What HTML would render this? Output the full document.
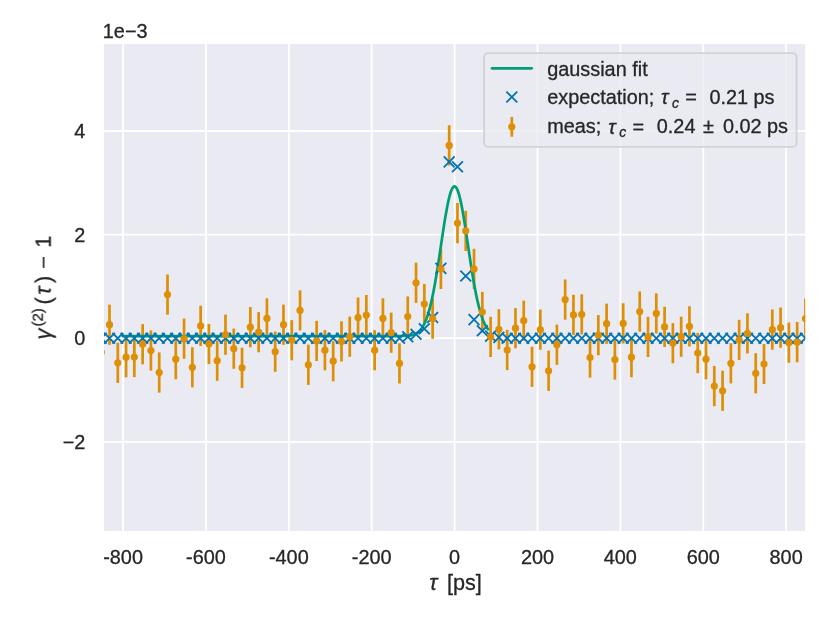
<!DOCTYPE html>
<html lang="en"><head><meta charset="utf-8"><title>gaussian fit</title>
<style>
html,body{margin:0;padding:0;background:#fff;}
svg{display:block;}
text{font-family:"Liberation Sans",sans-serif;fill:#262626;stroke:#262626;stroke-width:0.3px;}
</style></head>
<body>
<svg width="830" height="623" viewBox="0 0 830 623">
<defs>
<clipPath id="ax"><rect x="104" y="44" width="701.2" height="487"/></clipPath>
<path id="x" d="M-5.42 -5.42 L5.42 5.42 M-5.42 5.42 L5.42 -5.42" fill="none" stroke="#0173B2" stroke-width="1.8" stroke-linecap="butt"/>
<circle id="p" r="3.6" fill="#DE8F05"/>
</defs>
<rect x="0" y="0" width="830" height="623" fill="#ffffff"/>
<rect x="104" y="44" width="701.2" height="487" fill="#EAEAF2"/>
<g stroke="#ffffff" stroke-width="1.8" stroke-linecap="round" clip-path="url(#ax)">
<line x1="123.08" y1="44" x2="123.08" y2="531"/>
<line x1="205.96" y1="44" x2="205.96" y2="531"/>
<line x1="288.84" y1="44" x2="288.84" y2="531"/>
<line x1="371.72" y1="44" x2="371.72" y2="531"/>
<line x1="454.6" y1="44" x2="454.6" y2="531"/>
<line x1="537.48" y1="44" x2="537.48" y2="531"/>
<line x1="620.36" y1="44" x2="620.36" y2="531"/>
<line x1="703.24" y1="44" x2="703.24" y2="531"/>
<line x1="786.12" y1="44" x2="786.12" y2="531"/>
<line x1="104" y1="441.8" x2="805.2" y2="441.8"/>
<line x1="104" y1="338.2" x2="805.2" y2="338.2"/>
<line x1="104" y1="234.6" x2="805.2" y2="234.6"/>
<line x1="104" y1="131" x2="805.2" y2="131"/>
</g>
<g clip-path="url(#ax)">
<g stroke="#DE8F05" stroke-width="2.71" stroke-linecap="butt">
<line x1="101.22" y1="332.1" x2="101.22" y2="372.3"/>
<line x1="109.5" y1="304.6" x2="109.5" y2="344.8"/>
<line x1="117.78" y1="342.7" x2="117.78" y2="382.9"/>
<line x1="126.07" y1="337.1" x2="126.07" y2="377.3"/>
<line x1="134.35" y1="336.9" x2="134.35" y2="377.1"/>
<line x1="142.64" y1="324.1" x2="142.64" y2="364.3"/>
<line x1="150.93" y1="330.4" x2="150.93" y2="370.6"/>
<line x1="159.21" y1="352.4" x2="159.21" y2="392.6"/>
<line x1="167.5" y1="274.5" x2="167.5" y2="314.7"/>
<line x1="175.78" y1="339.1" x2="175.78" y2="379.3"/>
<line x1="184.06" y1="318.6" x2="184.06" y2="358.8"/>
<line x1="192.35" y1="347.2" x2="192.35" y2="387.4"/>
<line x1="200.63" y1="305.8" x2="200.63" y2="346"/>
<line x1="208.92" y1="323.9" x2="208.92" y2="364.1"/>
<line x1="217.2" y1="340.6" x2="217.2" y2="380.8"/>
<line x1="225.49" y1="314.6" x2="225.49" y2="354.8"/>
<line x1="233.78" y1="328.6" x2="233.78" y2="368.8"/>
<line x1="242.06" y1="347.7" x2="242.06" y2="387.9"/>
<line x1="250.34" y1="307.1" x2="250.34" y2="347.3"/>
<line x1="258.63" y1="312.1" x2="258.63" y2="352.3"/>
<line x1="266.91" y1="298.3" x2="266.91" y2="338.5"/>
<line x1="275.2" y1="331.6" x2="275.2" y2="371.8"/>
<line x1="283.49" y1="304.6" x2="283.49" y2="344.8"/>
<line x1="291.77" y1="320.1" x2="291.77" y2="360.3"/>
<line x1="300.06" y1="290.3" x2="300.06" y2="330.5"/>
<line x1="308.34" y1="344.7" x2="308.34" y2="384.9"/>
<line x1="316.62" y1="320.8" x2="316.62" y2="361"/>
<line x1="324.91" y1="330.1" x2="324.91" y2="370.3"/>
<line x1="333.19" y1="341.1" x2="333.19" y2="381.3"/>
<line x1="341.48" y1="321.3" x2="341.48" y2="361.5"/>
<line x1="349.76" y1="316.6" x2="349.76" y2="356.8"/>
<line x1="358.05" y1="297.5" x2="358.05" y2="337.7"/>
<line x1="366.33" y1="295" x2="366.33" y2="335.2"/>
<line x1="374.62" y1="330.1" x2="374.62" y2="370.3"/>
<line x1="382.91" y1="298.3" x2="382.91" y2="338.5"/>
<line x1="391.19" y1="312.6" x2="391.19" y2="352.8"/>
<line x1="399.48" y1="343.3" x2="399.48" y2="383.5"/>
<line x1="407.76" y1="296.4" x2="407.76" y2="336.6"/>
<line x1="416.05" y1="262.7" x2="416.05" y2="302.9"/>
<line x1="424.33" y1="283.9" x2="424.33" y2="324.1"/>
<line x1="432.62" y1="298.6" x2="432.62" y2="338.8"/>
<line x1="440.9" y1="248.8" x2="440.9" y2="289"/>
<line x1="449.19" y1="125.3" x2="449.19" y2="165.5"/>
<line x1="457.47" y1="203" x2="457.47" y2="243.2"/>
<line x1="465.75" y1="210.7" x2="465.75" y2="250.9"/>
<line x1="474.04" y1="248.8" x2="474.04" y2="289"/>
<line x1="482.32" y1="291.9" x2="482.32" y2="332.1"/>
<line x1="490.61" y1="316.8" x2="490.61" y2="357"/>
<line x1="498.89" y1="309.2" x2="498.89" y2="349.4"/>
<line x1="507.18" y1="329.9" x2="507.18" y2="370.1"/>
<line x1="515.47" y1="308.1" x2="515.47" y2="348.3"/>
<line x1="523.75" y1="300.6" x2="523.75" y2="340.8"/>
<line x1="532.04" y1="346.7" x2="532.04" y2="386.9"/>
<line x1="540.32" y1="309.6" x2="540.32" y2="349.8"/>
<line x1="548.61" y1="350.7" x2="548.61" y2="390.9"/>
<line x1="556.89" y1="324.6" x2="556.89" y2="364.8"/>
<line x1="565.17" y1="279.5" x2="565.17" y2="319.7"/>
<line x1="573.46" y1="294.8" x2="573.46" y2="335"/>
<line x1="581.75" y1="294.3" x2="581.75" y2="334.5"/>
<line x1="590.03" y1="337.4" x2="590.03" y2="377.6"/>
<line x1="598.32" y1="315.1" x2="598.32" y2="355.3"/>
<line x1="606.6" y1="303.6" x2="606.6" y2="343.8"/>
<line x1="614.88" y1="339.4" x2="614.88" y2="379.6"/>
<line x1="623.17" y1="303.3" x2="623.17" y2="343.5"/>
<line x1="631.46" y1="337.1" x2="631.46" y2="377.3"/>
<line x1="639.74" y1="291.5" x2="639.74" y2="331.7"/>
<line x1="648.02" y1="316.8" x2="648.02" y2="357"/>
<line x1="656.31" y1="293.3" x2="656.31" y2="333.5"/>
<line x1="664.6" y1="306.8" x2="664.6" y2="347"/>
<line x1="672.88" y1="323.1" x2="672.88" y2="363.3"/>
<line x1="681.16" y1="316.6" x2="681.16" y2="356.8"/>
<line x1="689.45" y1="306.3" x2="689.45" y2="346.5"/>
<line x1="697.74" y1="332.9" x2="697.74" y2="373.1"/>
<line x1="706.02" y1="339.1" x2="706.02" y2="379.3"/>
<line x1="714.31" y1="366" x2="714.31" y2="406.2"/>
<line x1="722.59" y1="370.7" x2="722.59" y2="410.9"/>
<line x1="730.88" y1="343.2" x2="730.88" y2="383.4"/>
<line x1="739.16" y1="319.8" x2="739.16" y2="360"/>
<line x1="747.45" y1="313.3" x2="747.45" y2="353.5"/>
<line x1="755.73" y1="353.2" x2="755.73" y2="393.4"/>
<line x1="764.01" y1="343.9" x2="764.01" y2="384.1"/>
<line x1="772.3" y1="309.6" x2="772.3" y2="349.8"/>
<line x1="780.59" y1="307.6" x2="780.59" y2="347.8"/>
<line x1="788.87" y1="322.6" x2="788.87" y2="362.8"/>
<line x1="797.15" y1="322.1" x2="797.15" y2="362.3"/>
<line x1="805.44" y1="298.5" x2="805.44" y2="338.7"/>
</g>
<path d="M122.7 336.1 L130.7 336.1 L138.7 336.1 L146.7 336.1 L154.7 336.1 L162.7 336.1 L170.7 336.1 L178.7 336.1 L186.7 336.1 L194.7 336.1 L202.7 336.1 L210.7 336.1 L218.7 336.1 L226.7 336.1 L234.7 336.1 L242.7 336.1 L250.7 336.1 L258.7 336.1 L266.7 336.1 L274.7 336.1 L282.7 336.1 L290.7 336.1 L298.7 336.1 L306.7 336.1 L314.7 336.1 L322.7 336.1 L330.7 336.1 L338.7 336.1 L346.7 336.1 L354.7 336.1 L362.7 336.1 L370.7 336.1 L378.7 336.1 L379.2 336.1 L379.7 336.1 L380.2 336.1 L380.7 336.1 L381.2 336.1 L381.7 336.1 L382.2 336.1 L382.7 336.1 L383.2 336.1 L383.7 336.1 L384.2 336.1 L384.7 336.1 L385.2 336.1 L385.7 336.1 L386.2 336.1 L386.7 336.1 L387.2 336.1 L387.7 336.1 L388.2 336.1 L388.7 336.1 L389.2 336.1 L389.7 336.1 L390.2 336.1 L390.7 336.1 L391.2 336.1 L391.7 336.1 L392.2 336.1 L392.7 336.1 L393.2 336.1 L393.7 336.09 L394.2 336.09 L394.7 336.09 L395.2 336.09 L395.7 336.09 L396.2 336.09 L396.7 336.08 L397.2 336.08 L397.7 336.08 L398.2 336.07 L398.7 336.07 L399.2 336.07 L399.7 336.06 L400.2 336.05 L400.7 336.05 L401.2 336.04 L401.7 336.03 L402.2 336.02 L402.7 336 L403.2 335.99 L403.7 335.97 L404.2 335.96 L404.7 335.93 L405.2 335.91 L405.7 335.88 L406.2 335.85 L406.7 335.82 L407.2 335.78 L407.7 335.73 L408.2 335.68 L408.7 335.63 L409.2 335.56 L409.7 335.49 L410.2 335.41 L410.7 335.32 L411.2 335.23 L411.7 335.12 L412.2 335 L412.7 334.86 L413.2 334.71 L413.7 334.54 L414.2 334.36 L414.7 334.16 L415.2 333.94 L415.7 333.69 L416.2 333.42 L416.7 333.13 L417.2 332.81 L417.7 332.46 L418.2 332.07 L418.7 331.65 L419.2 331.2 L419.7 330.7 L420.2 330.16 L420.7 329.58 L421.2 328.96 L421.7 328.28 L422.2 327.55 L422.7 326.76 L423.2 325.92 L423.7 325.01 L424.2 324.04 L424.7 323 L425.2 321.9 L425.7 320.72 L426.2 319.47 L426.7 318.14 L427.2 316.73 L427.7 315.23 L428.2 313.66 L428.7 311.99 L429.2 310.24 L429.7 308.4 L430.2 306.47 L430.7 304.45 L431.2 302.34 L431.7 300.14 L432.2 297.84 L432.7 295.46 L433.2 292.98 L433.7 290.42 L434.2 287.77 L434.7 285.04 L435.2 282.22 L435.7 279.33 L436.2 276.37 L436.7 273.34 L437.2 270.24 L437.7 267.09 L438.2 263.88 L438.7 260.63 L439.2 257.34 L439.7 254.02 L440.2 250.68 L440.7 247.32 L441.2 243.96 L441.7 240.6 L442.2 237.25 L442.7 233.93 L443.2 230.64 L443.7 227.4 L444.2 224.2 L444.7 221.08 L445.2 218.02 L445.7 215.05 L446.2 212.18 L446.7 209.41 L447.2 206.76 L447.7 204.24 L448.2 201.84 L448.7 199.6 L449.2 197.5 L449.7 195.57 L450.2 193.8 L450.7 192.21 L451.2 190.81 L451.7 189.59 L452.2 188.56 L452.7 187.72 L453.2 187.09 L453.7 186.66 L454.2 186.44 L454.7 186.42 L455.2 186.6 L455.7 186.99 L456.2 187.58 L456.7 188.37 L457.2 189.36 L457.7 190.55 L458.2 191.92 L458.7 193.47 L459.2 195.2 L459.7 197.1 L460.2 199.17 L460.7 201.38 L461.2 203.75 L461.7 206.25 L462.2 208.87 L462.7 211.62 L463.2 214.47 L463.7 217.42 L464.2 220.46 L464.7 223.57 L465.2 226.75 L465.7 229.99 L466.2 233.27 L466.7 236.59 L467.2 239.93 L467.7 243.28 L468.2 246.65 L468.7 250.01 L469.2 253.35 L469.7 256.68 L470.2 259.97 L470.7 263.23 L471.2 266.45 L471.7 269.61 L472.2 272.72 L472.7 275.77 L473.2 278.74 L473.7 281.65 L474.2 284.48 L474.7 287.23 L475.2 289.9 L475.7 292.48 L476.2 294.97 L476.7 297.37 L477.2 299.69 L477.7 301.91 L478.2 304.04 L478.7 306.08 L479.2 308.03 L479.7 309.88 L480.2 311.65 L480.7 313.33 L481.2 314.92 L481.7 316.43 L482.2 317.86 L482.7 319.21 L483.2 320.48 L483.7 321.67 L484.2 322.79 L484.7 323.84 L485.2 324.82 L485.7 325.74 L486.2 326.6 L486.7 327.39 L487.2 328.14 L487.7 328.82 L488 329.21" fill="none" stroke="#029E73" stroke-width="2.71" stroke-linejoin="round" stroke-linecap="round"/>
<use href="#x" x="101.22" y="338.2"/>
<use href="#x" x="109.5" y="338.2"/>
<use href="#x" x="117.78" y="338.2"/>
<use href="#x" x="126.07" y="338.2"/>
<use href="#x" x="134.35" y="338.2"/>
<use href="#x" x="142.64" y="338.2"/>
<use href="#x" x="150.93" y="338.2"/>
<use href="#x" x="159.21" y="338.2"/>
<use href="#x" x="167.5" y="338.2"/>
<use href="#x" x="175.78" y="338.2"/>
<use href="#x" x="184.06" y="338.2"/>
<use href="#x" x="192.35" y="338.2"/>
<use href="#x" x="200.63" y="338.2"/>
<use href="#x" x="208.92" y="338.2"/>
<use href="#x" x="217.2" y="338.2"/>
<use href="#x" x="225.49" y="338.2"/>
<use href="#x" x="233.78" y="338.2"/>
<use href="#x" x="242.06" y="338.2"/>
<use href="#x" x="250.34" y="338.2"/>
<use href="#x" x="258.63" y="338.2"/>
<use href="#x" x="266.91" y="338.2"/>
<use href="#x" x="275.2" y="338.2"/>
<use href="#x" x="283.49" y="338.2"/>
<use href="#x" x="291.77" y="338.2"/>
<use href="#x" x="300.06" y="338.2"/>
<use href="#x" x="308.34" y="338.2"/>
<use href="#x" x="316.62" y="338.2"/>
<use href="#x" x="324.91" y="338.2"/>
<use href="#x" x="333.19" y="338.2"/>
<use href="#x" x="341.48" y="338.2"/>
<use href="#x" x="349.76" y="338.2"/>
<use href="#x" x="358.05" y="338.2"/>
<use href="#x" x="366.33" y="338.2"/>
<use href="#x" x="374.62" y="338.2"/>
<use href="#x" x="382.91" y="338.2"/>
<use href="#x" x="391.19" y="338.2"/>
<use href="#x" x="399.48" y="338.2"/>
<use href="#x" x="407.76" y="336.7"/>
<use href="#x" x="416.05" y="334.3"/>
<use href="#x" x="424.33" y="328.7"/>
<use href="#x" x="432.62" y="317.5"/>
<use href="#x" x="440.9" y="268.4"/>
<use href="#x" x="449.19" y="161.9"/>
<use href="#x" x="457.47" y="166.8"/>
<use href="#x" x="465.75" y="276"/>
<use href="#x" x="474.04" y="319.6"/>
<use href="#x" x="482.32" y="330.8"/>
<use href="#x" x="490.61" y="336.1"/>
<use href="#x" x="498.89" y="337.4"/>
<use href="#x" x="507.18" y="338.2"/>
<use href="#x" x="515.47" y="338.2"/>
<use href="#x" x="523.75" y="338.2"/>
<use href="#x" x="532.04" y="338.2"/>
<use href="#x" x="540.32" y="338.2"/>
<use href="#x" x="548.61" y="338.2"/>
<use href="#x" x="556.89" y="338.2"/>
<use href="#x" x="565.17" y="338.2"/>
<use href="#x" x="573.46" y="338.2"/>
<use href="#x" x="581.75" y="338.2"/>
<use href="#x" x="590.03" y="338.2"/>
<use href="#x" x="598.32" y="338.2"/>
<use href="#x" x="606.6" y="338.2"/>
<use href="#x" x="614.88" y="338.2"/>
<use href="#x" x="623.17" y="338.2"/>
<use href="#x" x="631.46" y="338.2"/>
<use href="#x" x="639.74" y="338.2"/>
<use href="#x" x="648.02" y="338.2"/>
<use href="#x" x="656.31" y="338.2"/>
<use href="#x" x="664.6" y="338.2"/>
<use href="#x" x="672.88" y="338.2"/>
<use href="#x" x="681.16" y="338.2"/>
<use href="#x" x="689.45" y="338.2"/>
<use href="#x" x="697.74" y="338.2"/>
<use href="#x" x="706.02" y="338.2"/>
<use href="#x" x="714.31" y="338.2"/>
<use href="#x" x="722.59" y="338.2"/>
<use href="#x" x="730.88" y="338.2"/>
<use href="#x" x="739.16" y="338.2"/>
<use href="#x" x="747.45" y="338.2"/>
<use href="#x" x="755.73" y="338.2"/>
<use href="#x" x="764.01" y="338.2"/>
<use href="#x" x="772.3" y="338.2"/>
<use href="#x" x="780.59" y="338.2"/>
<use href="#x" x="788.87" y="338.2"/>
<use href="#x" x="797.15" y="338.2"/>
<use href="#x" x="805.44" y="338.2"/>
<use href="#p" x="101.22" y="352.2"/>
<use href="#p" x="109.5" y="324.7"/>
<use href="#p" x="117.78" y="362.8"/>
<use href="#p" x="126.07" y="357.2"/>
<use href="#p" x="134.35" y="357"/>
<use href="#p" x="142.64" y="344.2"/>
<use href="#p" x="150.93" y="350.5"/>
<use href="#p" x="159.21" y="372.5"/>
<use href="#p" x="167.5" y="294.6"/>
<use href="#p" x="175.78" y="359.2"/>
<use href="#p" x="184.06" y="338.7"/>
<use href="#p" x="192.35" y="367.3"/>
<use href="#p" x="200.63" y="325.9"/>
<use href="#p" x="208.92" y="344"/>
<use href="#p" x="217.2" y="360.7"/>
<use href="#p" x="225.49" y="334.7"/>
<use href="#p" x="233.78" y="348.7"/>
<use href="#p" x="242.06" y="367.8"/>
<use href="#p" x="250.34" y="327.2"/>
<use href="#p" x="258.63" y="332.2"/>
<use href="#p" x="266.91" y="318.4"/>
<use href="#p" x="275.2" y="351.7"/>
<use href="#p" x="283.49" y="324.7"/>
<use href="#p" x="291.77" y="340.2"/>
<use href="#p" x="300.06" y="310.4"/>
<use href="#p" x="308.34" y="364.8"/>
<use href="#p" x="316.62" y="340.9"/>
<use href="#p" x="324.91" y="350.2"/>
<use href="#p" x="333.19" y="361.2"/>
<use href="#p" x="341.48" y="341.4"/>
<use href="#p" x="349.76" y="336.7"/>
<use href="#p" x="358.05" y="317.6"/>
<use href="#p" x="366.33" y="315.1"/>
<use href="#p" x="374.62" y="350.2"/>
<use href="#p" x="382.91" y="318.4"/>
<use href="#p" x="391.19" y="332.7"/>
<use href="#p" x="399.48" y="363.4"/>
<use href="#p" x="407.76" y="316.5"/>
<use href="#p" x="416.05" y="282.8"/>
<use href="#p" x="424.33" y="304"/>
<use href="#p" x="432.62" y="318.7"/>
<use href="#p" x="440.9" y="268.9"/>
<use href="#p" x="449.19" y="145.4"/>
<use href="#p" x="457.47" y="223.1"/>
<use href="#p" x="465.75" y="230.8"/>
<use href="#p" x="474.04" y="268.9"/>
<use href="#p" x="482.32" y="312"/>
<use href="#p" x="490.61" y="336.9"/>
<use href="#p" x="498.89" y="329.3"/>
<use href="#p" x="507.18" y="350"/>
<use href="#p" x="515.47" y="328.2"/>
<use href="#p" x="523.75" y="320.7"/>
<use href="#p" x="532.04" y="366.8"/>
<use href="#p" x="540.32" y="329.7"/>
<use href="#p" x="548.61" y="370.8"/>
<use href="#p" x="556.89" y="344.7"/>
<use href="#p" x="565.17" y="299.6"/>
<use href="#p" x="573.46" y="314.9"/>
<use href="#p" x="581.75" y="314.4"/>
<use href="#p" x="590.03" y="357.5"/>
<use href="#p" x="598.32" y="335.2"/>
<use href="#p" x="606.6" y="323.7"/>
<use href="#p" x="614.88" y="359.5"/>
<use href="#p" x="623.17" y="323.4"/>
<use href="#p" x="631.46" y="357.2"/>
<use href="#p" x="639.74" y="311.6"/>
<use href="#p" x="648.02" y="336.9"/>
<use href="#p" x="656.31" y="313.4"/>
<use href="#p" x="664.6" y="326.9"/>
<use href="#p" x="672.88" y="343.2"/>
<use href="#p" x="681.16" y="336.7"/>
<use href="#p" x="689.45" y="326.4"/>
<use href="#p" x="697.74" y="353"/>
<use href="#p" x="706.02" y="359.2"/>
<use href="#p" x="714.31" y="386.1"/>
<use href="#p" x="722.59" y="390.8"/>
<use href="#p" x="730.88" y="363.3"/>
<use href="#p" x="739.16" y="339.9"/>
<use href="#p" x="747.45" y="333.4"/>
<use href="#p" x="755.73" y="373.3"/>
<use href="#p" x="764.01" y="364"/>
<use href="#p" x="772.3" y="329.7"/>
<use href="#p" x="780.59" y="327.7"/>
<use href="#p" x="788.87" y="342.7"/>
<use href="#p" x="797.15" y="342.2"/>
<use href="#p" x="805.44" y="318.6"/>
</g>
<g opacity="0.999">
<text x="123.08" y="563.6" font-size="19.86" text-anchor="middle">-800</text>
<text x="205.96" y="563.6" font-size="19.86" text-anchor="middle">-600</text>
<text x="288.84" y="563.6" font-size="19.86" text-anchor="middle">-400</text>
<text x="371.72" y="563.6" font-size="19.86" text-anchor="middle">-200</text>
<text x="454.6" y="563.6" font-size="19.86" text-anchor="middle">0</text>
<text x="537.48" y="563.6" font-size="19.86" text-anchor="middle">200</text>
<text x="620.36" y="563.6" font-size="19.86" text-anchor="middle">400</text>
<text x="703.24" y="563.6" font-size="19.86" text-anchor="middle">600</text>
<text x="786.12" y="563.6" font-size="19.86" text-anchor="middle">800</text>
<text x="85.4" y="138" font-size="19.86" text-anchor="end">4</text>
<text x="85.4" y="241.6" font-size="19.86" text-anchor="end">2</text>
<text x="85.4" y="345.2" font-size="19.86" text-anchor="end">0</text>
<text x="85.4" y="448.8" font-size="19.86" text-anchor="end">−2</text>
<text x="102.8" y="37.7" font-size="19.86">1e−3</text>
<text x="429.3" y="590.1" font-size="21.67" font-style="italic">τ</text>
<text x="446.9" y="590.1" font-size="21.67">[ps]</text>
<g transform="translate(50.7 341) rotate(-90)">
<text x="1.6" y="-0.1" font-size="21.67" font-style="italic">γ</text>
<text x="14.4" y="-8.4" font-size="15.17">(2)</text>
<text x="36.6" y="-0.1" font-size="21.67">(</text>
<text x="46.2" y="-0.1" font-size="21.67" font-style="italic">τ</text>
<text x="58" y="-0.1" font-size="21.67">)</text>
<text x="72.3" y="-0.1" font-size="21.67">−</text>
<text x="93.2" y="-0.1" font-size="21.67">1</text>
</g>
</g>
<rect x="484.1" y="53.1" width="312.5" height="93.8" rx="4" ry="4" fill="#EAEAF2" fill-opacity="0.8" stroke="#cccccc" stroke-opacity="0.8" stroke-width="1.8"/>
<line x1="492" y1="68.3" x2="531.7" y2="68.3" stroke="#029E73" stroke-width="2.71" stroke-linecap="round"/>
<use href="#x" x="511.8" y="97.0"/>
<line x1="511.8" y1="116.87" x2="511.8" y2="136.73" stroke="#DE8F05" stroke-width="2.71"/>
<use href="#p" x="511.8" y="126.8"/>
<g opacity="0.999">
<text x="547.2" y="76.0" font-size="19.86">gaussian fit</text>
<text x="547.2" y="103.5" font-size="19.86">expectation;</text>
<g transform="translate(659.6 104.3)">
<text x="1.5" y="-0.1" font-size="19.86" font-style="italic">τ</text>
<text x="12.4" y="3.3" font-size="13.9" font-style="italic">c</text>
<text x="25.7" y="-0.1" font-size="19.86">=</text>
</g>
<text x="709.4" y="103.5" font-size="19.86">0.21 ps</text>
<text x="547.2" y="133.3" font-size="19.86">meas;</text>
<g transform="translate(606.8 134.1)">
<text x="1.5" y="-0.1" font-size="19.86" font-style="italic">τ</text>
<text x="12.4" y="3.3" font-size="13.9" font-style="italic">c</text>
<text x="25.7" y="-0.1" font-size="19.86">=</text>
</g>
<text x="656.8" y="133.3" font-size="19.86">0.24</text>
<text x="702.9" y="133.3" font-size="19.86">±</text>
<text x="722.9" y="133.3" font-size="19.86">0.02 ps</text>
</g>
</svg>
</body></html>
